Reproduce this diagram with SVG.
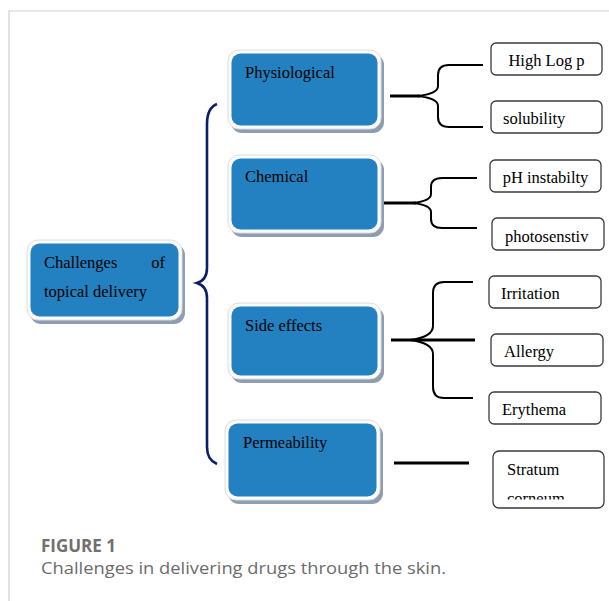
<svg xmlns="http://www.w3.org/2000/svg" width="609" height="601" viewBox="0 0 609 601">
<style>
.frame{fill:none;stroke:#cfcfcf;stroke-width:1.2}
.shadow{fill:#8d9db2}
.outer{fill:#fbfbfb;stroke:#dedede;stroke-width:1}
.blue{fill:#2481c1}
.nt{font-family:"Liberation Serif","Times New Roman",serif;font-size:16.5px;fill:#000}
.box{fill:#fff;stroke:#3a3a3a;stroke-width:1.3}
.bt{font-family:"Liberation Serif","Times New Roman",serif;font-size:16.5px;fill:#000}
.br{fill:none;stroke:#000;stroke-width:2}
.stem{fill:none;stroke:#000;stroke-width:3}
.navy{fill:none;stroke:#0b1e66;stroke-width:2.6}
.fig{font-family:"Open Sans","Lato",sans-serif;font-weight:bold;font-size:17px;fill:#707070}
.cap{font-family:"Open Sans","Lato",sans-serif;font-size:16.5px;fill:#6b6b6b}
</style>
<defs>
<clipPath id="clipSC"><rect x="493" y="451" width="112" height="48.5"/></clipPath>
</defs>
<rect x="0" y="0" width="609" height="601" fill="#fff"/>
<path class="frame" d="M9,601 V11 H609"/>

<g id="connectors">
<path class="navy" d="M217,104 Q207,108 207,124 V268 Q207,280 197,283 Q207,286 207,298 V447 Q207,460 217,464"/>
<path class="stem" d="M390,96 H420"/>
<path class="br" d="M483,65 H449 Q438,65 438,75 V86 Q438,94 417,96 Q438,98 438,106 V117 Q438,127 449,127 H483"/>
<path class="stem" d="M383,203 H416"/>
<path class="br" d="M477,178 H442 Q431,178 431,187 V194 Q431,201 413,203 Q431,205 431,212 V219 Q431,228 442,228 H477"/>
<path class="stem" d="M391,340 H475"/>
<path class="br" d="M473,282 H444 Q433,282 433,293 V326 Q433,337 410,340 Q433,343 433,354 V387 Q433,398 444,398 H473"/>
<path class="stem" d="M394,463 H469"/>
</g>

<g id="node-challenges">
<rect class="shadow" x="30" y="244" width="155" height="80" rx="11"/>
<rect class="outer" x="27" y="240" width="155" height="80" rx="11"/>
<rect class="blue" x="30.5" y="243.5" width="148" height="73" rx="9"/>
<text class="nt" x="44" y="268">Challenges</text>
<text class="nt" x="165" y="268" text-anchor="end">of</text>
<text class="nt" x="44" y="297">topical delivery</text>
</g>

<g id="node-physiological">
<rect class="shadow" x="231" y="54" width="153" height="79" rx="11"/>
<rect class="outer" x="228" y="50" width="153" height="79" rx="11"/>
<rect class="blue" x="231.5" y="53.5" width="146" height="72" rx="9"/>
<text class="nt" x="245" y="78">Physiological</text>
</g>

<g id="node-chemical">
<rect class="shadow" x="231" y="159" width="153" height="78" rx="11"/>
<rect class="outer" x="228" y="155" width="153" height="78" rx="11"/>
<rect class="blue" x="231.5" y="158.5" width="146" height="71" rx="9"/>
<text class="nt" x="245" y="182">Chemical</text>
</g>

<g id="node-side-effects">
<rect class="shadow" x="231" y="307" width="153" height="76" rx="11"/>
<rect class="outer" x="228" y="303" width="153" height="76" rx="11"/>
<rect class="blue" x="231.5" y="306.5" width="146" height="69" rx="9"/>
<text class="nt" x="245" y="331">Side effects</text>
</g>

<g id="node-permeability">
<rect class="shadow" x="228" y="424" width="155" height="80" rx="11"/>
<rect class="outer" x="225" y="420" width="155" height="80" rx="11"/>
<rect class="blue" x="228.5" y="423.5" width="148" height="73" rx="9"/>
<text class="nt" x="243" y="448">Permeability</text>
</g>

<g id="node-high-log-p">
<rect class="box" x="491" y="43" width="111" height="32" rx="5"/>
<text class="bt" x="546.5" y="66" text-anchor="middle">High Log p</text>
</g>
<g id="node-solubility">
<rect class="box" x="491" y="101" width="111" height="32" rx="5"/>
<text class="bt" x="503" y="124">solubility</text>
</g>
<g id="node-ph">
<rect class="box" x="490" y="160" width="111" height="32" rx="5"/>
<text class="bt" x="545.5" y="183" text-anchor="middle">pH instabilty</text>
</g>
<g id="node-photo">
<rect class="box" x="492" y="218" width="112" height="32" rx="5"/>
<text class="bt" x="505" y="242">photosenstiv</text>
</g>
<g id="node-irritation">
<rect class="box" x="489" y="276" width="112" height="32" rx="5"/>
<text class="bt" x="501" y="299">Irritation</text>
</g>
<g id="node-allergy">
<rect class="box" x="491" y="334" width="112" height="32" rx="5"/>
<text class="bt" x="504" y="357">Allergy</text>
</g>
<g id="node-erythema">
<rect class="box" x="489" y="392" width="112" height="32" rx="5"/>
<text class="bt" x="502" y="415">Erythema</text>
</g>
<g id="node-stratum">
<rect class="box" x="493" y="451" width="111" height="57" rx="6"/>
<text class="bt" x="507" y="475">Stratum</text>
<text class="bt" x="507" y="504" clip-path="url(#clipSC)">corneum</text>
</g>

<text class="fig" x="41" y="552">FIGURE 1</text>
<text class="cap" x="41" y="574" textLength="405" lengthAdjust="spacingAndGlyphs">Challenges in delivering drugs through the skin.</text>
</svg>
